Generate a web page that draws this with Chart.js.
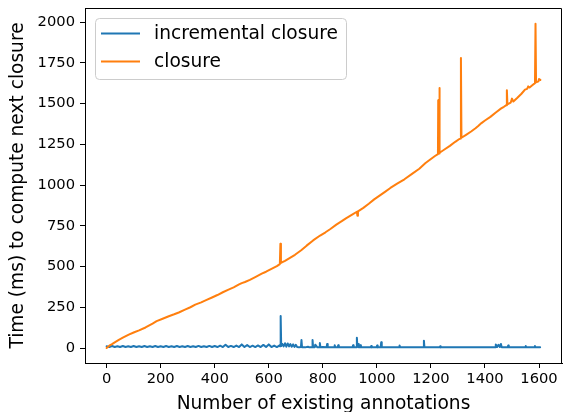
<!DOCTYPE html>
<html>
<head>
<meta charset="utf-8">
<script src="https://cdn.jsdelivr.net/npm/chart.js@4"></script>
<style>
html,body{margin:0;padding:0;background:#fff;}
canvas{display:block;}
</style>
</head>
<body>
<canvas id="c" width="563" height="412"></canvas>
<script>
// ---- data ----
const incX = [0,10,20,30,40,50,60,70,80,90,100,110,120,130,140,150,160,170,180,190,200,210,220,230,240,250,260,270,280,290,300,310,320,330,340,350,360,370,380,390,400,410,420,430,440,450,460,470,480,490,500,510,520,530,540,550,560,570,580,590,600,610,620,630,640,
  642,644,646,650,655,660,665,670,675,680,685,690,695,700,705,712,719,721,723,735,745,750,760,762,764,770,772,780,787,789,791,800,814,816,818,830,842,844,846,855,857,859,880,910,912,914,924,926,928,931,933,937,939,941,960,977,979,981,999,1001,1003,1014,1016,1018,1050,1082,1084,1086,1130,1172,1174,1176,1232,1234,1236,1300,1400,1438,1440,1445,1450,1455,1459,1462,1484,1486,1488,1520,1549,1551,1553,1583,1585,1587,1604];
const incY = [11,6,12,6,11,6,12,6,11,6,12,6,11,6,12,6,11,6,12,6,11,6,12,6,11,6,12,6,11,6,12,6,11,6,13,6,11,6,13,6,12,6,14,6,20,6,13,6,15,6,22,6,18,6,14,6,16,6,19,6,22,6,15,6,16,
  10,197,12,25,10,29,8,28,10,24,8,22,7,20,6,4,6,49,5,4,8,4,5,49,5,4,20,4,5,30,5,6,4,25,4,4,5,17,4,5,17,4,4,5,17,4,5,63,8,25,5,4,17,4,4,4,12,4,4,15,4,4,35,4,4,4,15,4,4,4,45,4,4,10,4,4,4,4,22,6,20,6,25,5,4,16,4,4,4,12,4,4,12,4,4];

const closureX = [0,10,20,30,45,60,82,100,120,144,170,185,205,230,250,267,290,310,328,350,370,390,410,430,451,470,490,500,512,530,550,574,590,610,630,641,643,645,660,680,697,720,740,764,790,810,828,850,870,887,910,926,928,930,950,970,990,1010,1030,1050,1075,1102,1130,1157,1180,1200,1215,1226,1227,1228,1230,1231,1233,1250,1270,1290,1305,1309,1311,1313,1330,1350,1365,1375,1387,1400,1420,1440,1460,1470,1479,1481,1483,1495,1500,1505,1520,1535,1548,1556,1560,1565,1575,1585,1587,1589,1598,1600,1605];
const closureY = [0,14,24,35,50,63,82,95,108,126,150,165,178,195,207,218,235,250,266,280,295,310,325,342,358,372,390,398,405,418,435,456,468,485,502,515,640,522,535,555,572,600,628,660,690,710,730,757,778,797,820,836,812,838,860,885,912,935,958,982,1008,1035,1068,1100,1135,1160,1178,1190,1520,1192,1194,1595,1198,1218,1240,1265,1282,1285,1780,1290,1308,1330,1348,1362,1380,1396,1418,1445,1470,1480,1490,1582,1495,1505,1530,1512,1535,1560,1585,1590,1605,1598,1612,1625,1990,1630,1636,1650,1645];

const xTicks = [0,200,400,600,800,1000,1200,1400,1600];
const yTicks = [0,250,500,750,1000,1250,1500,1750,2000];
const seriesNames = ['incremental closure','closure'];
const xTitle = 'Number of existing annotations';
const yTitle = 'Time (ms) to compute next closure';

const FONT = "'DejaVu Sans', sans-serif";

const boxPlugin = {
  id: 'box',
  afterDraw(chart) {
    const {ctx, chartArea: a} = chart;
    ctx.save();
    ctx.strokeStyle = '#000';
    ctx.lineWidth = 1;
    ctx.beginPath();
    ctx.moveTo(a.left, a.top + 0.5);
    ctx.lineTo(a.right - 0.5, a.top + 0.5);
    ctx.lineTo(a.right - 0.5, a.bottom);
    ctx.stroke();
    // legend
    const lx = 95.5, ly = 18.5, lw = 251, lh = 61, r = 4;
    ctx.fillStyle = 'rgba(255,255,255,0.8)';
    ctx.strokeStyle = '#cccccc';
    ctx.beginPath();
    ctx.moveTo(lx + r, ly);
    ctx.arcTo(lx + lw, ly, lx + lw, ly + lh, r);
    ctx.arcTo(lx + lw, ly + lh, lx, ly + lh, r);
    ctx.arcTo(lx, ly + lh, lx, ly, r);
    ctx.arcTo(lx, ly, lx + lw, ly, r);
    ctx.closePath();
    ctx.fill();
    ctx.stroke();
    const ds = chart.data.datasets;
    const rows = [33.5, 61.5];
    ds.forEach((d, i) => {
      ctx.strokeStyle = d.borderColor;
      ctx.lineWidth = 2;
      ctx.beginPath();
      ctx.moveTo(101, rows[i]);
      ctx.lineTo(140, rows[i]);
      ctx.stroke();
      ctx.fillStyle = '#000';
      ctx.font = '18.6px ' + FONT;
      ctx.textBaseline = 'middle';
      ctx.textAlign = 'left';
      ctx.fillText(d.label, 154, rows[i] + 1);
    });
    ctx.restore();
  }
};

const plain = v => String(v);

new Chart(document.getElementById('c'), {
  type: 'line',
  data: {
    datasets: [
      {label: seriesNames[0], data: incX.map((x, i) => ({x, y: incY[i]})), borderColor: '#1f77b4', backgroundColor: '#1f77b4', borderWidth: 2, borderJoinStyle: 'round', borderCapStyle: 'round', pointRadius: 0, tension: 0, order: 2},
      {label: seriesNames[1], data: closureX.map((x, i) => ({x, y: closureY[i]})), borderColor: '#ff7f0e', backgroundColor: '#ff7f0e', borderWidth: 2, borderJoinStyle: 'round', borderCapStyle: 'round', pointRadius: 0, tension: 0, order: 1}
    ]
  },
  options: {
    responsive: false,
    animation: false,
    events: [],
    layout: {padding: {left: 0, right: 1, top: 8, bottom: 0}},
    plugins: {legend: {display: false}, tooltip: {enabled: false}},
    scales: {
      x: {
        type: 'linear', min: -80, max: 1685,
        afterBuildTicks: s => { s.ticks = xTicks.map(v => ({value: v})); },
        afterFit: s => { s.height = 49; s.paddingLeft = 0; s.paddingRight = 0; },
        grid: {display: true, drawOnChartArea: false, drawTicks: true, tickLength: 5, tickColor: '#000', tickWidth: 1},
        border: {display: true, color: '#000', width: 1},
        ticks: {color: '#000', font: {family: FONT, size: 14.7}, padding: 2, maxRotation: 0, autoSkip: false, callback: plain},
        title: {display: true, text: xTitle, color: '#000', font: {family: FONT, size: 18.6}, padding: {top: 0, bottom: -3}}
      },
      y: {
        type: 'linear', min: -92, max: 2086,
        afterBuildTicks: s => { s.ticks = yTicks.map(v => ({value: v})); },
        afterFit: s => { s.width = 85; s.paddingTop = 0; s.paddingBottom = 0; },
        grid: {display: true, drawOnChartArea: false, drawTicks: true, tickLength: 5, tickColor: '#000', tickWidth: 1},
        border: {display: true, color: '#000', width: 1},
        ticks: {color: '#000', font: {family: FONT, size: 14.7}, padding: 5, autoSkip: false, callback: plain},
        title: {display: true, text: yTitle, color: '#000', font: {family: FONT, size: 18.6}, padding: {top: 7, bottom: 0}}
      }
    }
  },
  plugins: [boxPlugin]
});
</script>
</body>
</html>
